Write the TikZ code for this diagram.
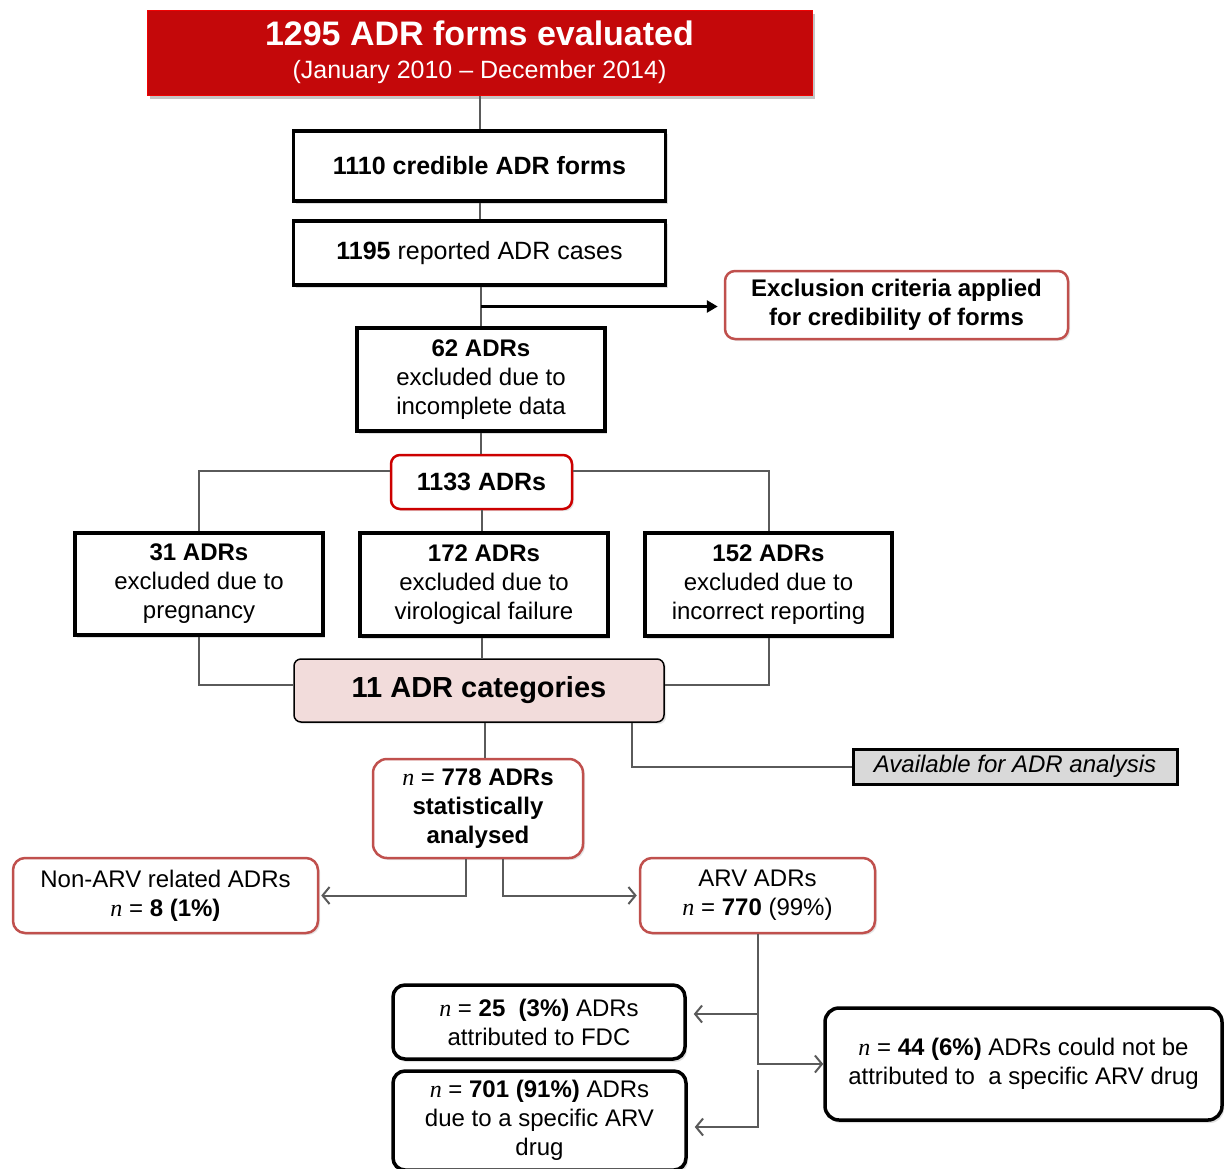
\documentclass[tikz,border=0pt]{standalone}
\usepackage{fontspec}
\setmainfont{Liberation Sans}
\newfontfamily\nfont{Liberation Serif}
\usetikzlibrary{arrows.meta,shadows,calc}
\definecolor{topred}{HTML}{C4080A}
\definecolor{softred}{HTML}{C0504D}
\definecolor{brightred}{HTML}{CC0000}
\definecolor{pinkfill}{HTML}{F2DCDB}
\definecolor{greyfill}{HTML}{D9D9D9}
\definecolor{connc}{HTML}{5A5A5A}
\newcommand{\nn}{{\nfont\itshape n}}
\tikzset{
  txt/.style={font=\fontsize{24}{29}\selectfont},
  blackbox/.style={txt, draw=black, line width=3.5pt, fill=white, inner sep=0pt, align=center,
    drop shadow={opacity=0.25, shadow xshift=2pt, shadow yshift=-3pt}},
  redbox/.style={txt, draw=softred, line width=2.5pt, rounded corners=12pt, fill=white, inner sep=0pt, align=center,
    drop shadow={opacity=0.2, shadow xshift=2pt, shadow yshift=-2pt}},
  conn/.style={draw=connc, line width=2pt},
  oarrow/.style={conn, -{Straight Barb[length=7pt,width=17pt,line width=2pt]}},
  barrow/.style={draw=black, line width=3pt, -{Triangle[length=11pt,width=12pt]}}
}
\begin{document}
\begin{tikzpicture}[x=1pt,y=-1pt]
\useasboundingbox[fill=white] (0,0) rectangle (1229,1168);

% nodes
\node[fill=topred, draw=red!75!topred, line width=1pt, minimum width=665pt, minimum height=85pt, inner sep=0pt, align=center, text=white,
  font=\fontsize{25}{33}\selectfont,
  drop shadow={opacity=0.45, shadow xshift=3pt, shadow yshift=-4pt}] (top) at (479.5,52.5)
  {{\fontsize{34}{33}\selectfont\bfseries 1295 ADR forms evaluated}\\{\fontsize{25}{33}\selectfont (January 2010 -- December 2014)}};

\node[blackbox, minimum width=372pt, minimum height=70pt] (b1110) at (479.5,166)
  {\fontsize{25}{29}\selectfont\bfseries 1110 credible ADR forms};
\node[blackbox, minimum width=372pt, minimum height=64pt] (b1195) at (479.5,253)
  {\fontsize{25}{29}\selectfont{\bfseries 1195} reported ADR cases};
\node[redbox, rounded corners=10pt, minimum width=343pt, minimum height=68pt] (excl) at (896.5,305)
  {\bfseries Exclusion criteria applied\\\bfseries for credibility of forms};
\node[blackbox, minimum width=248pt, minimum height=103pt] (b62) at (481,379.5)
  {\bfseries 62 ADRs\\excluded due to\\incomplete data};
\node[redbox, draw=brightred, rounded corners=9pt, minimum width=181pt, minimum height=54pt] (b1133) at (481.5,482)
  {\fontsize{25}{29}\selectfont\bfseries 1133 ADRs};
\node[blackbox, minimum width=248pt, minimum height=102pt] (b31) at (199,584)
  {\bfseries 31 ADRs\\excluded due to\\pregnancy};
\node[blackbox, minimum width=248pt, minimum height=103pt] (b172) at (484,584.5)
  {\bfseries 172 ADRs\\excluded due to\\virological failure};
\node[blackbox, minimum width=247pt, minimum height=103pt] (b152) at (768.5,584.5)
  {\bfseries 152 ADRs\\excluded due to\\incorrect reporting};
\node[txt, draw=black, line width=1.5pt, fill=pinkfill, rounded corners=7pt, minimum width=370pt, minimum height=63pt, inner sep=0pt,
  drop shadow={opacity=0.2, shadow xshift=2pt, shadow yshift=-2pt}] (cat) at (479,690.5)
  {\fontsize{29}{32}\selectfont\bfseries 11 ADR categories};
\node[txt, draw=black, line width=3pt, fill=greyfill, minimum width=324pt, minimum height=35pt, inner sep=0pt,
  drop shadow={opacity=0.3, shadow xshift=2pt, shadow yshift=-2pt}] (avail) at (1015,766.5)
  {\itshape Available for ADR analysis};
\node[redbox, rounded corners=14pt, minimum width=210pt, minimum height=99pt] (b778) at (478,808.5)
  {\nn{} = {\bfseries 778 ADRs}\\\bfseries statistically\\\bfseries analysed};
\node[redbox, minimum width=305pt, minimum height=75pt] (nonarv) at (165.5,895.5)
  {Non-ARV related ADRs\\\nn{} = {\bfseries 8 (1\%)}};
\node[redbox, minimum width=235pt, minimum height=75pt] (arv) at (757.5,895.5)
  {ARV ADRs\\\nn{} = {\bfseries 770} (99\%)};
\node[blackbox, rounded corners=12pt, minimum width=292pt, minimum height=74pt] (b25) at (539,1022)
  {\nn{} = {\bfseries 25\ \ (3\%)} ADRs\\attributed to FDC};
\node[blackbox, rounded corners=12pt, minimum width=293pt, minimum height=99pt] (b701) at (539.5,1120.5)
  {\nn{} = {\bfseries 701 (91\%)} ADRs\\due to a specific ARV\\drug};
\node[blackbox, rounded corners=14pt, minimum width=397pt, minimum height=112pt] (b44) at (1023.5,1064)
  {\nn{} = {\bfseries 44 (6\%)} ADRs could not be\\attributed to\ \ a specific ARV drug};

% connectors
\draw[conn] (top.south) -- (b1110.north);
\draw[conn] (b1110.south) -- (b1195.north);
\draw[conn] (b62.north |- b1195.south) -- (b62.north);
\coordinate (m1) at ($(b62.north |- b1195.south)!0.5!(b62.north)$);
\draw[barrow, shorten >=6pt] (m1) -- (m1 -| excl.west);
\draw[conn] (b62.south) -- (b62.south |- b1133.north);
\coordinate (l1133) at ([yshift=11pt]b1133.west);
\coordinate (r1133) at ([yshift=11pt]b1133.east);
\draw[conn] (l1133) -| (b31.north);
\draw[conn] (r1133) -| (b152.north);
\draw[conn] (b1133.south) -- (b1133.south |- b172.north);
\coordinate (lcat) at ([yshift=6pt]cat.west);
\coordinate (rcat) at ([yshift=6pt]cat.east);
\draw[conn] (b31.south) |- (lcat);
\draw[conn] (b152.south) |- (rcat);
\draw[conn] (b1133.south |- b172.south) -- (b1133.south |- cat.north);
\coordinate (c1) at ([xshift=6pt]cat.south);
\draw[conn] (c1) -- (c1 |- b778.north);
\coordinate (c2) at ([xshift=153pt]cat.south);
\draw[conn] (c2) |- (avail.west);
\draw[oarrow, shorten >=2pt] ([xshift=-12pt]b778.south) |- (nonarv.east);
\draw[oarrow, shorten >=2pt] ([xshift=25pt]b778.south) |- (arv.west);
\draw[oarrow] (arv.south) |- (b44.west);
\coordinate (j25) at ([yshift=8pt]b25.east);
\draw[oarrow, shorten >=7pt] (arv.south |- j25) -- (j25);
\coordinate (s701) at ([yshift=-1pt]b701.north -| arv.south);
\coordinate (j701) at ([yshift=-6.5pt]b701.east);
\draw[oarrow, shorten >=7pt] (s701) |- (j701);
\end{tikzpicture}
\end{document}
